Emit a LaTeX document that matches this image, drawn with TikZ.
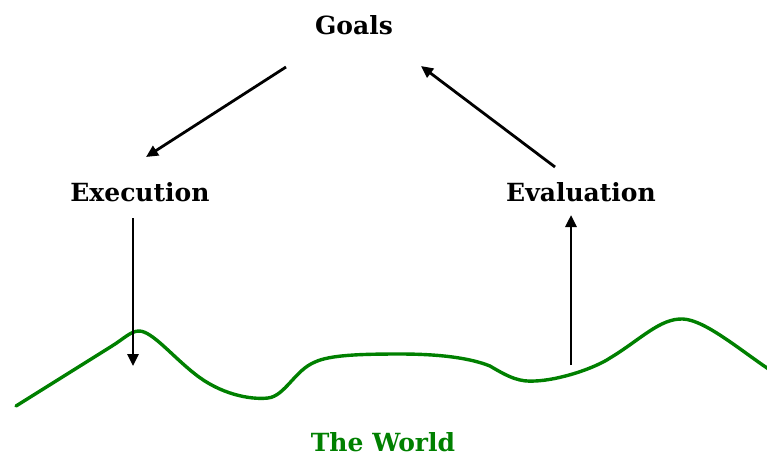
\documentclass[tikz,border=0pt]{standalone}
\usepackage{fontspec}
\setmainfont{DejaVu Serif}
\usetikzlibrary{arrows.meta}
\definecolor{worldgreen}{RGB}{0,128,0}
\tikzset{
  lbl/.style={font=\bfseries\fontsize{25}{30}\selectfont, inner sep=0pt},
  arr/.style={line width=2.8pt, -{Triangle[length=12pt,width=11pt]}},
  worldline/.style={line width=3.4pt, worldgreen, line cap=round}
}
\begin{document}
\begin{tikzpicture}[x=1pt,y=-1pt]
\useasboundingbox (0,0) rectangle (767,459);
\node[lbl] (goals) at (354,25) {Goals};
\node[lbl] (exec) at (140,192) {Execution};
\node[lbl] (eval) at (581,192) {Evaluation};
\node[lbl, text=worldgreen] (world) at (383,442) {The World};
\coordinate (g1) at (286,67);
\coordinate (e1) at (146,157);
\coordinate (v1) at (555,167);
\coordinate (g2) at (421,66);
\coordinate (x1) at (133,218);
\coordinate (x2) at (133,366);
\coordinate (w1) at (571,365);
\coordinate (v2) at (571,215);
\draw[worldline] (16,406) -- (112,346)
  .. controls (124,338.5) and (131,331) .. (139,331)
  .. controls (152,331) and (172,356) .. (195,374)
  .. controls (220,394) and (250,400) .. (268,398)
  .. controls (285,396) and (295,370) .. (315,362)
  .. controls (330,355) and (360,354) .. (400,354)
  .. controls (440,354) and (470,358) .. (490,366)
  .. controls (510,378) and (520,382) .. (535,381)
  .. controls (560,380) and (595,368) .. (610,358)
  .. controls (640,340) and (660,318) .. (683,319)
  .. controls (705,320) and (740,350) .. (770,370);
\draw[arr] (g1) -- (e1);
\draw[arr] (v1) -- (g2);
\draw[arr] (x1) -- (x2);
\draw[arr] (w1) -- (v2);
\end{tikzpicture}
\end{document}
